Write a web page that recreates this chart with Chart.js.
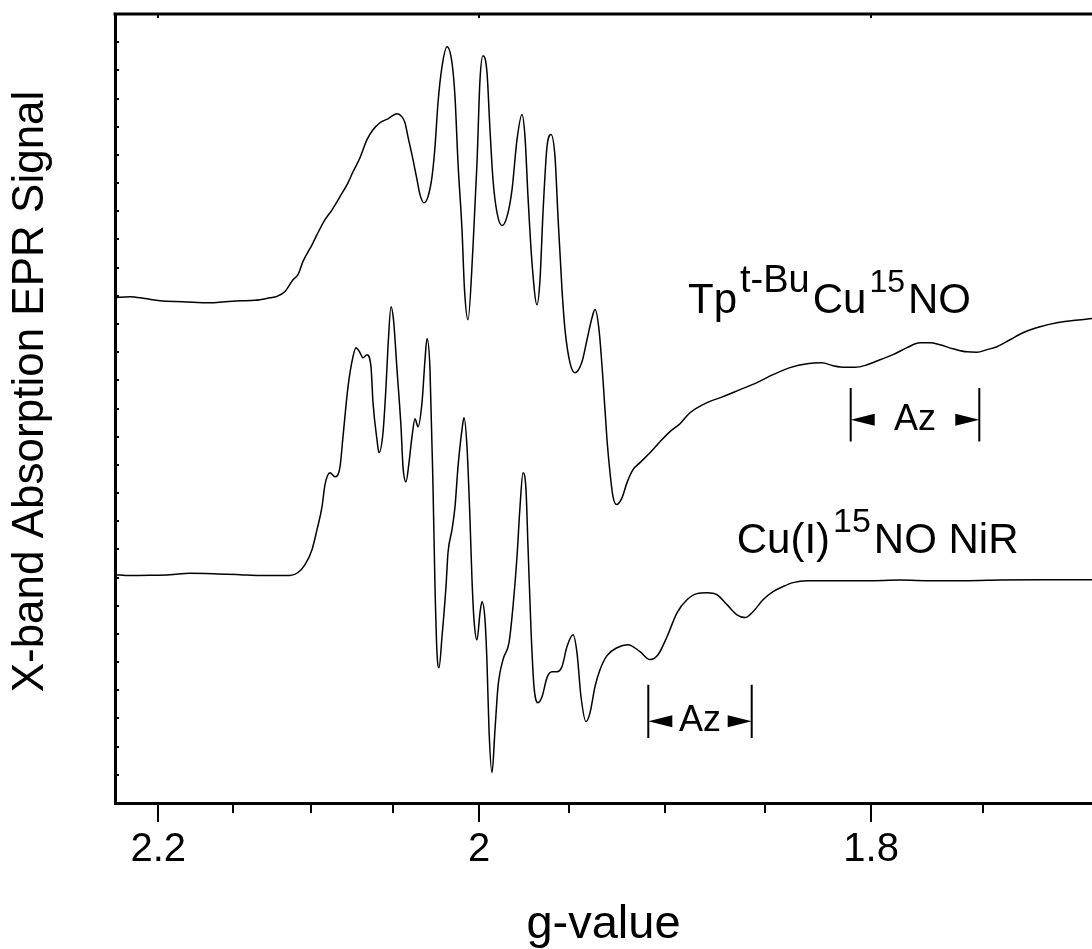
<!DOCTYPE html>
<html>
<head>
<meta charset="utf-8">
<title>X-band EPR</title>
<script src="https://cdn.jsdelivr.net/npm/chart.js@4.4.0/dist/chart.umd.min.js"></script>
<style>
  html, body { margin: 0; padding: 0; background: #fff; }
  canvas { display: block; }
</style>
</head>
<body>
<canvas id="eprChart" width="1092" height="949"></canvas>
<script>
// x is magnetic field (mT), g = K_FIELD / B ; y is signal in arbitrary units
const K_FIELD = 705.8;

const gTicks = [2.2, 2.15, 2.1, 2.05, 2.0, 1.95, 1.9, 1.85, 1.8, 1.75];
const gTickLabels = ["2.2", "", "", "", "2", "", "", "", "1.8", ""];

// Tp(t-Bu)Cu15NO
const tpField = [
  316.5, 318.0, 319.5, 321.0, 323.3, 326.0, 327.5, 329.0, 330.5, 332.0,
  332.7, 333.5, 334.3, 334.8, 335.3, 336.2, 336.7, 337.5, 338.2, 339.0,
  339.8, 340.3, 341.0, 341.7, 342.3, 343.0, 343.8, 344.7, 345.2, 345.5,
  345.8, 346.3, 346.7, 347.0, 347.4, 347.8, 348.2, 348.5, 348.8, 349.2,
  349.7, 350.2, 350.5, 350.8, 351.2, 351.45, 351.8, 352.3, 352.7, 353.0,
  353.3, 353.7, 354.0, 354.3, 354.7, 355.2, 355.7, 356.2, 356.7, 357.2,
  357.5, 357.8, 358.2, 358.7, 359.0, 359.3, 359.7, 360.1, 360.5, 360.8,
  361.2, 361.5, 362.0, 362.5, 363.2, 363.7, 364.2, 364.5, 364.9, 365.3,
  365.7, 366.0, 366.3, 366.65, 367.2, 367.7, 368.3, 369.0, 370.0, 371.0,
  372.0, 373.0, 374.0, 375.7, 377.3, 379.0, 380.7, 382.3, 384.0, 385.7,
  387.2, 388.3, 389.5, 390.5, 391.7, 393.0, 394.3, 395.7, 397.0, 398.0,
  399.0, 400.3, 401.7, 402.7, 403.7, 404.7, 406.0, 407.3, 409.0, 410.7,
  412.3, 414.2
];
const tpSignal = [
  17.93, 17.97, 17.90, 17.82, 17.79, 17.75, 17.79, 17.82, 17.84, 17.93,
  17.98, 18.15, 18.57, 18.75, 19.22, 19.81, 20.17, 20.70, 21.05, 21.52,
  22.01, 22.40, 22.90, 23.54, 23.89, 24.14, 24.28, 24.46, 24.35, 24.14,
  23.64, 22.83, 22.12, 21.59, 21.30, 21.52, 22.22, 23.29, 24.85, 26.13,
  26.84, 26.27, 25.06, 22.72, 20.34, 18.22, 17.15, 19.74, 22.72, 25.67,
  26.52, 25.92, 23.89, 22.12, 20.95, 20.49, 20.81, 21.76, 23.54, 24.43,
  23.64, 21.52, 19.17, 17.68, 18.57, 20.95, 23.29, 23.72, 22.93, 20.81,
  18.22, 16.80, 15.62, 15.27, 15.66, 16.44, 17.22, 17.51, 16.80, 15.02,
  12.89, 11.72, 10.87, 10.59, 10.83, 11.37, 11.83, 12.08, 12.43, 12.82,
  13.18, 13.46, 13.85, 14.21, 14.42, 14.67, 14.92, 15.20, 15.45, 15.59,
  15.62, 15.52, 15.46, 15.46, 15.55, 15.73, 15.91, 16.16, 16.33, 16.33,
  16.26, 16.12, 16.01, 16.00, 16.09, 16.19, 16.44, 16.69, 16.90, 17.04,
  17.12, 17.19
];

// Cu(I)15NO NiR
const niField = [
  316.5, 318.0, 320.0, 322.0, 324.0, 326.7, 329.0, 331.0, 333.0, 334.0,
  334.8, 335.5, 336.2, 336.7, 337.2, 337.5, 338.0, 338.5, 339.0, 339.3,
  339.8, 340.3, 340.6, 341.0, 341.3, 341.7, 342.1, 342.3, 342.7, 342.9,
  343.3, 343.6, 343.8, 344.1, 344.35, 344.7, 345.1, 345.3, 345.6, 345.9,
  346.2, 346.5, 346.8, 347.2, 347.5, 347.7, 348.0, 348.3, 348.5, 348.7,
  348.9, 349.2, 349.6, 349.8, 350.2, 350.5, 350.8, 351.2, 351.4, 351.7,
  352.0, 352.2, 352.4, 352.7, 353.0, 353.2, 353.5, 353.7, 353.9, 354.2,
  354.5, 354.8, 355.3, 355.9, 356.3, 356.7, 357.0, 357.3, 357.6, 357.8,
  358.1, 358.4, 358.8, 359.2, 359.7, 360.2, 360.7, 361.2, 361.7, 362.3,
  362.7, 363.1, 363.6, 364.0, 364.5, 365.0, 365.7, 366.7, 367.8, 369.0,
  370.0, 370.8, 371.7, 372.7, 373.7, 374.7, 375.7, 376.7, 377.7, 378.7,
  379.5, 380.3, 381.3, 382.3, 383.3, 384.3, 385.7, 388.3, 391.7, 395.0,
  398.3, 401.7, 405.0, 409.0, 414.2
];
const niSignal = [
  8.10, 8.07, 8.08, 8.10, 8.15, 8.13, 8.10, 8.07, 8.07, 8.07,
  8.18, 8.46, 8.99, 9.70, 10.51, 11.30, 11.72, 11.58, 11.93, 13.00,
  14.77, 15.84, 16.16, 15.98, 15.80, 15.91, 15.48, 14.21, 12.89, 12.43,
  13.14, 14.77, 16.19, 17.61, 17.15, 15.38, 13.35, 11.93, 11.40, 12.08,
  13.00, 13.64, 13.35, 14.21, 15.73, 16.48, 15.38, 11.22, 7.68, 5.33,
  4.80, 5.90, 7.68, 8.88, 9.70, 10.51, 11.93, 13.25, 13.67, 12.64,
  10.05, 7.92, 6.50, 5.79, 6.75, 7.14, 6.50, 4.98, 2.60, 1.08,
  2.60, 4.13, 5.09, 5.69, 6.97, 8.74, 10.51, 11.72, 11.12, 9.10,
  6.15, 4.13, 3.56, 3.77, 4.45, 4.66, 4.66, 4.84, 5.55, 5.97,
  5.33, 3.77, 2.89, 3.20, 4.13, 4.73, 5.23, 5.51, 5.62, 5.37,
  5.09, 5.26, 5.90, 6.75, 7.21, 7.43, 7.46, 7.39, 7.04, 6.68,
  6.58, 6.79, 7.21, 7.50, 7.68, 7.82, 7.89, 7.89, 7.89, 7.91,
  7.89, 7.89, 7.91, 7.92, 7.92
];

// hyperfine markers (field from/to, signal range of the bars)
const azMarks = [
  { from: 390.07, to: 402.93, low: 12.83, high: 14.73, mid: 13.60 },
  { from: 369.83, to: 380.17, low: 2.31, high: 4.20, mid: 2.90 }
];
// trace labels: [text, font size, raise]
const traceLabels = [
  { field: 373.8, signal: 17.40, runs: [["Tp", 42, 0], ["t-Bu", 38, 21], ["Cu", 42, 0], ["15", 32, 21], ["NO", 42, 0]] },
  { field: 378.67, signal: 8.88, runs: [["Cu(I)", 42, 0], ["15", 34, 21], ["NO NiR", 42, 0]] }
];
const yTitle = "X-band Absorption EPR Signal";

const FONT = '"Liberation Sans", Arial, Helvetica, sans-serif';

const frameTicks = {
  id: "frameTicks",
  afterDraw(chart) {
    const { ctx, chartArea: a, scales: { x, y } } = chart;
    ctx.save();
    ctx.strokeStyle = "#000";
    ctx.lineWidth = 3;
    ctx.beginPath();
    ctx.moveTo(a.left - 1.5, a.top);
    ctx.lineTo(a.right, a.top);
    ctx.stroke();

    ctx.lineWidth = 2;
    gTicks.forEach((g, i) => {
      const px = Math.round(x.getPixelForValue(K_FIELD / g));
      const major = gTickLabels[i] !== "";
      ctx.beginPath();
      ctx.moveTo(px, a.bottom);
      ctx.lineTo(px, a.bottom + (major ? 19 : 10));
      if (major) {
        ctx.moveTo(px, a.top);
        ctx.lineTo(px, a.top + 4);
      }
      ctx.stroke();
    });
    for (let v = 1; v < y.max; v++) {
      const py = Math.round(y.getPixelForValue(v));
      ctx.beginPath();
      ctx.moveTo(a.left, py);
      ctx.lineTo(a.left + 4, py);
      ctx.stroke();
    }

    // y axis title, sits a little above the axis centre as in the original
    ctx.fillStyle = "#000";
    ctx.font = "44px " + FONT;
    ctx.textAlign = "center";
    ctx.textBaseline = "middle";
    ctx.translate(31, (a.top + a.bottom) / 2 - 17);
    ctx.rotate(-Math.PI / 2);
    ctx.fillText(yTitle, 0, 0);
    ctx.restore();
  }
};

const annotations = {
  id: "annotations",
  afterDatasetsDraw(chart) {
    const { ctx, scales: { x, y } } = chart;
    ctx.save();
    ctx.fillStyle = "#000";
    ctx.strokeStyle = "#000";

    azMarks.forEach(m => {
      const x1 = x.getPixelForValue(m.from);
      const x2 = x.getPixelForValue(m.to);
      const yl = y.getPixelForValue(m.low);
      const yh = y.getPixelForValue(m.high);
      const ym = y.getPixelForValue(m.mid);
      ctx.lineWidth = 2;
      ctx.beginPath();
      ctx.moveTo(x1, yl); ctx.lineTo(x1, yh);
      ctx.moveTo(x2, yl); ctx.lineTo(x2, yh);
      ctx.stroke();
      const len = 24, half = 6;
      ctx.beginPath();
      ctx.moveTo(x1, ym); ctx.lineTo(x1 + len, ym - half); ctx.lineTo(x1 + len, ym + half);
      ctx.closePath();
      ctx.moveTo(x2, ym); ctx.lineTo(x2 - len, ym - half); ctx.lineTo(x2 - len, ym + half);
      ctx.closePath();
      ctx.fill();
      ctx.font = "36px " + FONT;
      ctx.textAlign = "center";
      ctx.textBaseline = "middle";
      ctx.fillText("Az", (x1 + x2) / 2, ym);
    });

    ctx.textAlign = "left";
    ctx.textBaseline = "alphabetic";
    traceLabels.forEach(l => {
      let cx = x.getPixelForValue(l.field);
      const by = y.getPixelForValue(l.signal);
      l.runs.forEach(([t, size, raise]) => {
        ctx.font = size + "px " + FONT;
        ctx.fillText(t, cx, by - raise);
        cx += ctx.measureText(t).width + 3;
      });
    });
    ctx.restore();
  }
};

const lineStyle = {
  borderColor: "#000",
  borderWidth: 1.5,
  pointRadius: 0,
  fill: false,
  cubicInterpolationMode: "monotone"
};

new Chart(document.getElementById("eprChart"), {
  type: "line",
  data: {
    datasets: [
      { ...lineStyle, label: "TpCu15NO", data: tpField.map((b, i) => ({ x: b, y: tpSignal[i] })) },
      { ...lineStyle, label: "Cu(I)15NO NiR", data: niField.map((b, i) => ({ x: b, y: niSignal[i] })) }
    ]
  },
  options: {
    responsive: false,
    animation: false,
    layout: { padding: { top: 14, right: 0, bottom: 0, left: 0 } },
    plugins: { legend: { display: false }, tooltip: { enabled: false } },
    scales: {
      x: {
        type: "linear",
        min: 316.5,
        max: 414.2,
        afterBuildTicks: s => { s.ticks = gTicks.map(g => ({ value: K_FIELD / g })); },
        afterFit: s => { s.height = 146; },
        grid: { display: false, drawTicks: false },
        border: { display: true, width: 3, color: "#000" },
        ticks: {
          autoSkip: false,
          maxRotation: 0,
          padding: 23,
          color: "#000",
          font: { family: FONT, size: 40, lineHeight: 1.2 },
          callback: (v, i) => gTickLabels[i]
        },
        title: {
          display: true,
          text: "g-value",
          color: "#000",
          font: { family: FONT, size: 47, lineHeight: 1 },
          padding: { top: 0, bottom: 0 }
        }
      },
      y: {
        min: 0,
        max: 28,
        afterFit: s => { s.width = 115; },
        grid: { display: false, drawTicks: false },
        border: { display: true, width: 3, color: "#000" },
        ticks: { display: false },
        title: { display: false }
      }
    }
  },
  plugins: [frameTicks, annotations]
});
</script>
</body>
</html>
